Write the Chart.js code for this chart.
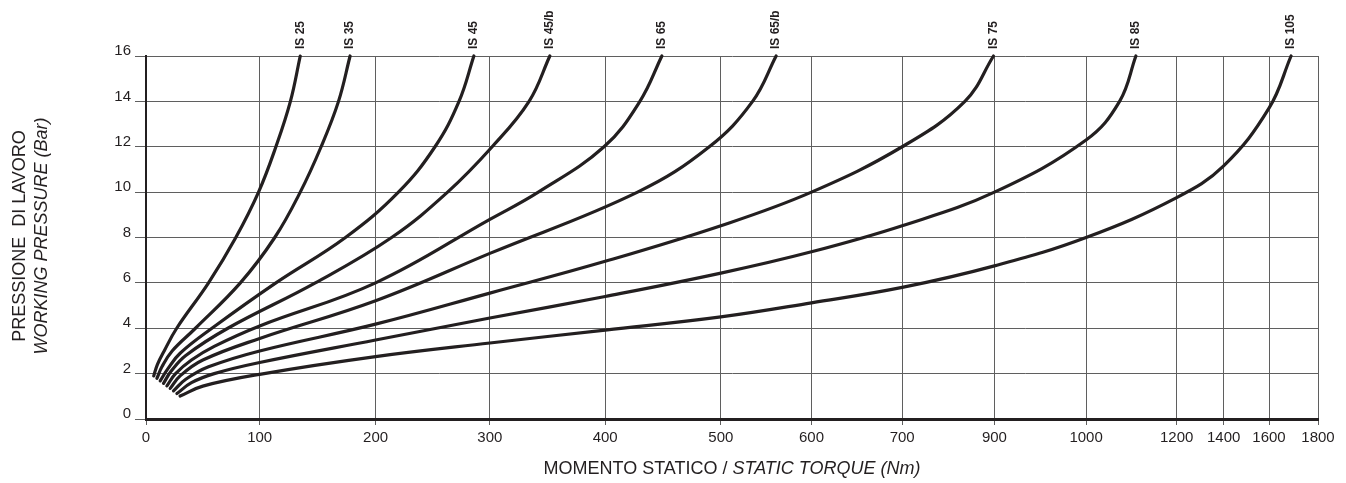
<!DOCTYPE html>
<html>
<head>
<meta charset="utf-8">
<script src="https://cdn.jsdelivr.net/npm/chart.js@4.4.1/dist/chart.umd.min.js"></script>
<style>
  html, body { margin: 0; padding: 0; background: #ffffff; }
  #wrap { width: 1346px; height: 483px; position: relative; }
</style>
</head>
<body>
<div id="wrap"><canvas id="c" width="1346" height="483"></canvas></div>
<script>
// ---------- DATA (torque Nm, pressure bar) ----------
const xTickValues = [0, 100, 200, 300, 400, 500, 600, 700, 900, 1000, 1200, 1400, 1600, 1800];
const yTickValues = [0, 2, 4, 6, 8, 10, 12, 14, 16];
const seriesNames = ['IS 25', 'IS 35', 'IS 45', 'IS 45/b', 'IS 65', 'IS 65/b', 'IS 75', 'IS 85', 'IS 105'];

const IS25  = [[6.8,1.9],[10,2.4],[16,3],[27,4],[55,6],[79,8],[99,10],[114,12],[126.5,14],[135,16]];
const IS35  = [[9.6,1.79],[14,2.3],[23,3],[43.5,4],[83,6],[113,8],[135,10],[153,12],[168,14],[178,16]];
const IS45  = [[12.5,1.68],[19,2.2],[30,2.9],[58,4],[114,6],[174,8],[220,10],[252,12],[273,14],[286,16]];
const IS45b = [[15.4,1.57],[22,2.1],[35,2.8],[72,4],[148,6],[214,8],[263,10],[302,12],[334,14],[352,16]];
const IS65  = [[18.4,1.46],[26,2],[40,2.6],[60,3.2],[100,4.1],[200,6.0],[300,8.8],[342,10],[399,12],[430,14],[449,16]];
const IS65b = [[21.3,1.35],[30,1.9],[50,2.6],[100,3.55],[200,5.21],[300,7.3],[428,10],[490,12],[535,14],[561,16]];
const IS75  = [[24.2,1.24],[35,1.75],[55,2.3],[100,3.0],[200,4.18],[300,5.55],[400,6.95],[500,8.52],[600,10],[700,12],[836,14],[898,16]];
const IS85  = [[27.2,1.12],[40,1.6],[60,2.0],[100,2.49],[200,3.48],[300,4.45],[400,5.4],[500,6.43],[600,7.37],[700,8.52],[900,10],[1000,12.3],[1074,14],[1110,16]];
const IS105 = [[30,1.01],[50,1.45],[100,1.97],[200,2.75],[300,3.35],[400,3.92],[500,4.5],[600,5.12],[700,5.8],[900,6.75],[1000,8.0],[1200,9.76],[1400,11.16],[1600,13.7],[1690,16]];
const seriesData = [IS25, IS35, IS45, IS45b, IS65, IS65b, IS75, IS85, IS105];

// ---------- AXIS GEOMETRY (fraction of plot width at each x tick) ----------
const xTickFractions = [0, 0.0970, 0.1959, 0.2934, 0.3918, 0.4905, 0.5678, 0.6452, 0.7239, 0.8021, 0.8794, 0.9195, 0.9582, 1.0];

const INK = '#231f20';
const GRID = '#5f5f5f';
const FONT = '"Liberation Sans", Arial, Helvetica, sans-serif';

// Piecewise-linear x scale (non-uniform torque axis as in the original chart)
class PiecewiseScale extends Chart.LinearScale {
  determineDataLimits() {
    this.min = xTickValues[0];
    this.max = xTickValues[xTickValues.length - 1];
  }
  buildTicks() {
    return xTickValues.map(v => ({ value: v }));
  }
  _frac(value) {
    const v = xTickValues, f = xTickFractions;
    if (value <= v[0]) return f[0];
    for (let i = 0; i < v.length - 1; i++) {
      if (value <= v[i + 1]) {
        return f[i] + (value - v[i]) / (v[i + 1] - v[i]) * (f[i + 1] - f[i]);
      }
    }
    return f[f.length - 1];
  }
  getPixelForValue(value) {
    return this.getPixelForDecimal(this._frac(value));
  }
  getValueForPixel(pixel) {
    const d = this.getDecimalForPixel(pixel);
    const v = xTickValues, f = xTickFractions;
    for (let i = 0; i < f.length - 1; i++) {
      if (d <= f[i + 1]) return v[i] + (d - f[i]) / (f[i + 1] - f[i]) * (v[i + 1] - v[i]);
    }
    return v[v.length - 1];
  }
}
PiecewiseScale.id = 'piecewise';
PiecewiseScale.defaults = Chart.LinearScale.defaults;
Chart.register(PiecewiseScale);

const annotPlugin = {
  id: 'annot',
  afterDraw(chart) {
    const { ctx, chartArea, scales } = chart;
    ctx.save();
    ctx.fillStyle = INK;

    // curve labels above the top end of each curve
    ctx.font = 'bold 12px ' + FONT;
    chart.data.datasets.forEach(ds => {
      const last = ds.data[ds.data.length - 1];
      const x = scales.x.getPixelForValue(last.x);
      ctx.save();
      ctx.translate(x, chartArea.top - 7);
      ctx.rotate(-Math.PI / 2);
      ctx.textAlign = 'left';
      ctx.textBaseline = 'middle';
      ctx.fillText(ds.label, 0, 0);
      ctx.restore();
    });

    // x axis title (mixed normal / italic)
    const partA = 'MOMENTO STATICO / ';
    const partB = 'STATIC TORQUE (Nm)';
    const fA = '18px ' + FONT, fB = 'italic 18px ' + FONT;
    ctx.font = fA; const wA = ctx.measureText(partA).width;
    ctx.font = fB; const wB = ctx.measureText(partB).width;
    const cx = (chartArea.left + chartArea.right) / 2;
    const sx = cx - (wA + wB) / 2;
    ctx.textAlign = 'left';
    ctx.textBaseline = 'alphabetic';
    ctx.font = fA; ctx.fillText(partA, sx, 474);
    ctx.font = fB; ctx.fillText(partB, sx + wA, 474);

    // y axis title (two rotated lines)
    const cy = 236;
    ctx.save();
    ctx.translate(25, cy);
    ctx.rotate(-Math.PI / 2);
    ctx.textAlign = 'center';
    ctx.font = fA;
    ctx.fillText('PRESSIONE  DI LAVORO', 0, 0);
    ctx.restore();
    ctx.save();
    ctx.translate(47, cy);
    ctx.rotate(-Math.PI / 2);
    ctx.textAlign = 'center';
    ctx.font = fB;
    ctx.fillText('WORKING PRESSURE (Bar)', 0, 0);
    ctx.restore();

    ctx.restore();
  }
};

const datasets = seriesData.map((arr, i) => ({
  label: seriesNames[i],
  data: arr.map(p => ({ x: p[0], y: p[1] })),
  borderColor: INK,
  borderWidth: 3.2,
  pointRadius: 0,
  fill: false,
  tension: 0.4,
  borderCapStyle: 'round',
  clip: 4
}));

new Chart(document.getElementById('c'), {
  type: 'line',
  data: { datasets },
  options: {
    responsive: false,
    devicePixelRatio: 1,
    animation: false,
    events: [],
    layout: { padding: { top: 56, right: 28, left: 0, bottom: 0 } },
    plugins: { legend: { display: false }, tooltip: { enabled: false } },
    scales: {
      x: {
        type: 'piecewise',
        min: 0, max: 1800,
        afterFit: s => { s.height = 64; },
        grid: { color: GRID, lineWidth: 1, tickLength: 6, drawTicks: true },
        border: { display: true, color: INK, width: 3 },
        ticks: {
          autoSkip: false, maxRotation: 0, padding: 4,
          color: INK, font: { family: FONT, size: 15 },
          callback: v => String(v)
        }
      },
      y: {
        type: 'linear',
        min: 0, max: 16,
        afterFit: s => { s.width = 146; },
        afterBuildTicks: s => { s.ticks = yTickValues.map(v => ({ value: v })); },
        grid: { color: GRID, lineWidth: 1, tickLength: 11, drawTicks: true },
        border: { display: true, color: INK, width: 2 },
        ticks: {
          padding: 4, labelOffset: -5,
          color: INK, font: { family: FONT, size: 15 },
          callback: v => String(v)
        }
      }
    }
  },
  plugins: [annotPlugin]
});
</script>
</body>
</html>
